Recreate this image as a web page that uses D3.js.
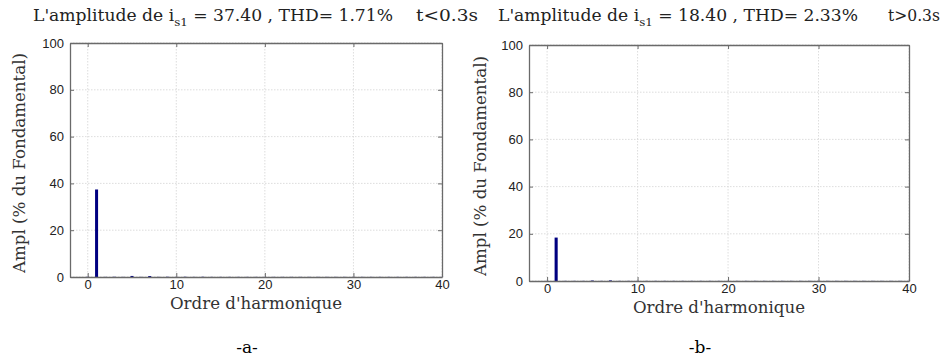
<!DOCTYPE html>
<html>
<head>
<meta charset="utf-8">
<script src="https://cdn.jsdelivr.net/npm/d3@7"></script>
<style>
  html, body { margin: 0; padding: 0; background: #fff; }
  svg { display: block; }
  .serif { font-family: "DejaVu Serif", "Liberation Serif", serif; }
  .sans { font-family: "Liberation Sans", Arial, Helvetica, sans-serif; }
</style>
</head>
<body>
<svg id="chart" width="945" height="360"></svg>
<script>
// Harmonic orders 0..40
const harmonics = d3.range(0, 41);

// Harmonic spectrum before t = 0.3 s (% of fundamental)
const spectrumA = [0.1, 37.4, 0.05, 0.1, 0.05, 0.45, 0.05, 0.4, 0.05, 0.1,
  0.05, 0.1, 0.05, 0.1, 0.05, 0.05, 0.05, 0.05, 0.05, 0.05,
  0.05, 0.05, 0.05, 0.05, 0.05, 0.05, 0.05, 0.05, 0.05, 0.05,
  0.05, 0.05, 0.05, 0.05, 0.05, 0.05, 0.05, 0.05, 0.05, 0.05, 0.05];

// Harmonic spectrum after t = 0.3 s (% of fundamental)
const spectrumB = [0.05, 18.4, 0.05, 0.05, 0.05, 0.2, 0.05, 0.25, 0.05, 0.05,
  0.05, 0.05, 0.05, 0.05, 0.05, 0.05, 0.05, 0.05, 0.05, 0.05,
  0.05, 0.05, 0.05, 0.05, 0.05, 0.05, 0.05, 0.05, 0.05, 0.05,
  0.05, 0.05, 0.05, 0.05, 0.05, 0.05, 0.05, 0.05, 0.05, 0.05, 0.05];

const xTicks = [0, 10, 20, 30, 40];
const yTicks = [0, 20, 40, 60, 80, 100];

const titlesMain = [
  {pre: "L'amplitude de i", sub: "s1", post: " = 37.40 , THD= 1.71%", time: "t<0.3s"},
  {pre: "L'amplitude de i", sub: "s1", post: " = 18.40 , THD= 2.33%", time: "t>0.3s"}
];
const panelLabels = ["-a-", "-b-"];
const xLabel = "Ordre d'harmonique";
const yLabel = "Ampl (% du Fondamental)";

const svg = d3.select("#chart");

const panels = [
  {data: spectrumA, x0: 70, x1: 442, y0: 43, y1: 277, title: titlesMain[0],
   titleX: 33, titleEnd: 393, timeX: 416, timeEnd: 478, yLabX: 25, xLabC: 256, label: panelLabels[0], labX: 247},
  {data: spectrumB, x0: 529, x1: 909, y0: 45, y1: 281, title: titlesMain[1],
   titleX: 498, titleEnd: 858, timeX: 888, timeEnd: 940, yLabX: 486, xLabC: 719, label: panelLabels[1], labX: 700}
];

panels.forEach(p => {
  const x = d3.scaleLinear().domain([-2, 40]).range([p.x0, p.x1]);
  const y = d3.scaleLinear().domain([0, 100]).range([p.y1, p.y0]);
  const g = svg.append("g");

  // grid
  g.append("g").selectAll("line").data(xTicks).join("line")
    .attr("x1", d => x(d)).attr("x2", d => x(d))
    .attr("y1", p.y0).attr("y2", p.y1)
    .attr("stroke", "#d4d4d4").attr("stroke-width", 0.8).attr("stroke-dasharray", "1.5,1.5");
  g.append("g").selectAll("line").data(yTicks).join("line")
    .attr("x1", p.x0).attr("x2", p.x1)
    .attr("y1", d => y(d)).attr("y2", d => y(d))
    .attr("stroke", "#d4d4d4").attr("stroke-width", 0.8).attr("stroke-dasharray", "1.5,1.5");

  // bars
  const bw = 0.34;
  g.append("g").selectAll("rect").data(harmonics).join("rect")
    .attr("x", d => x(d - bw / 2))
    .attr("width", x(bw) - x(0))
    .attr("y", d => y(p.data[d]))
    .attr("height", d => y(0) - y(p.data[d]))
    .attr("fill", "#000080");

  // axes (inward ticks on all four sides)
  const axB = d3.axisBottom(x).tickValues(xTicks).tickSizeInner(-4).tickSizeOuter(0).tickPadding(3);
  const axL = d3.axisLeft(y).tickValues(yTicks).tickSizeInner(-4).tickSizeOuter(0).tickPadding(6);
  const axT = d3.axisTop(x).tickValues(xTicks).tickSizeInner(-4).tickSizeOuter(0).tickFormat("");
  const axR = d3.axisRight(y).tickValues(yTicks).tickSizeInner(-4).tickSizeOuter(0).tickFormat("");

  const styleAxis = sel => {
    sel.attr("font-family", null).attr("font-size", null);
    sel.select(".domain").attr("stroke", "#6a6a6a").attr("stroke-width", 1.3);
    sel.selectAll(".tick line").attr("stroke", "#6a6a6a");
    sel.selectAll(".tick text").attr("class", "sans").attr("font-size", 13).attr("fill", "#222");
  };
  g.append("g").attr("transform", `translate(0,${p.y1})`).call(axB).call(styleAxis);
  g.append("g").attr("transform", `translate(${p.x0},0)`).call(axL).call(styleAxis);
  g.append("g").attr("transform", `translate(0,${p.y0})`).call(axT).call(styleAxis);
  g.append("g").attr("transform", `translate(${p.x1},0)`).call(axR).call(styleAxis);

  // title
  const t = g.append("text").attr("class", "serif")
    .attr("x", p.titleX).attr("y", 21)
    .attr("font-size", 16).attr("fill", "#222")
    .attr("textLength", p.titleEnd - p.titleX).attr("lengthAdjust", "spacingAndGlyphs");
  t.append("tspan").text(p.title.pre);
  t.append("tspan").attr("dy", 5).attr("font-size", 11).text(p.title.sub);
  t.append("tspan").attr("dy", -5).text(p.title.post);
  g.append("text").attr("class", "serif")
    .attr("x", p.timeX).attr("y", 21)
    .attr("font-size", 16).attr("fill", "#222")
    .attr("textLength", p.timeEnd - p.timeX).attr("lengthAdjust", "spacingAndGlyphs")
    .text(p.title.time);

  // axis labels
  g.append("text").attr("class", "serif")
    .attr("x", p.xLabC).attr("y", p.y1 + 32)
    .attr("text-anchor", "middle")
    .attr("font-size", 16).attr("fill", "#333")
    .attr("textLength", 172).attr("lengthAdjust", "spacingAndGlyphs")
    .text(xLabel);
  g.append("text").attr("class", "serif")
    .attr("transform", `translate(${p.yLabX},${(p.y0 + p.y1) / 2 + 3}) rotate(-90)`)
    .attr("text-anchor", "middle")
    .attr("font-size", 16).attr("fill", "#333")
    .attr("textLength", 220).attr("lengthAdjust", "spacingAndGlyphs")
    .text(yLabel);

  // panel tag
  g.append("text").attr("class", "serif")
    .attr("x", p.labX).attr("y", 353)
    .attr("text-anchor", "middle")
    .attr("font-size", 17).attr("fill", "#000")
    .text(p.label);
});
</script>
</body>
</html>
